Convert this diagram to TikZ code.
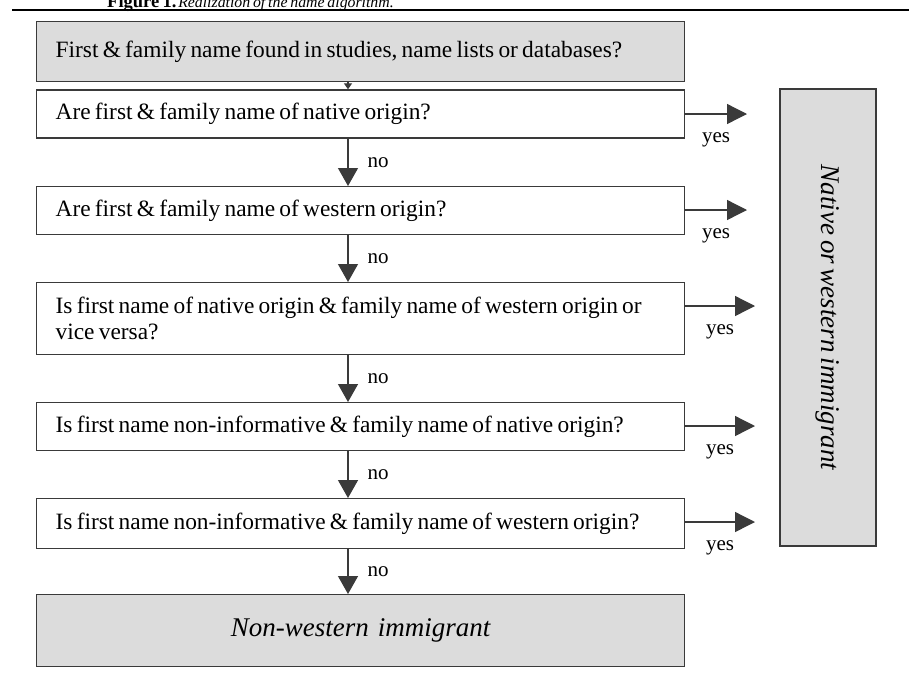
\documentclass[tikz,border=0pt]{standalone}
\usepackage{fontspec}
\setmainfont{Liberation Serif}[WordSpace=0.72]
\usetikzlibrary{arrows.meta}
\definecolor{boxgray}{HTML}{DCDCDC}
\definecolor{linegray}{HTML}{3A3A3A}
\begin{document}
\begin{tikzpicture}[x=1pt, y=-1pt,
qbox/.style={draw=linegray, line width=1.3pt, fill=white, rectangle, anchor=north west, minimum width=648pt, text width=610pt, inner xsep=19pt, inner ysep=0pt, align=flush left, font=\fontsize{23.4}{26}\selectfont},
gbox/.style={qbox, fill=boxgray},
rbox/.style={draw=linegray, line width=1.3pt, fill=boxgray, rectangle, align=center, font=\fontsize{27}{30}\selectfont\itshape},
yesarrow/.style={draw=linegray, line width=1.3pt, -{Triangle[length=20pt, width=20pt]}},
noarrow/.style={draw=linegray, line width=1.3pt, -{Triangle[length=18pt, width=20pt]}},
lbl/.style={inner sep=0pt, font=\fontsize{21}{24}\selectfont}]
\clip (0,0) rectangle (909,681);
\node[anchor=base west, inner sep=0pt] (cap) at (107,7){{\fontsize{18.5}{20}\selectfont\bfseries Figure 1.}\ {\fontsize{15.8}{18}\selectfont\itshape Realization of the name algorithm.}};
\draw[line width=1.8pt] (12,10) -- (909,10);
\node[gbox, minimum height=60pt] (q0) at (36,21){First \& family name found in studies, name lists or databases?};
\node[qbox, minimum height=48pt] (q1) at (36,89.3){Are first \& family name of native origin?};
\node[qbox, minimum height=48pt] (q2) at (36,186){Are first \& family name of western origin?};
\node[qbox, minimum height=72pt] (q3) at (36,282){Is first name of native origin \& family name of western origin or\\vice versa?};
\node[qbox, minimum height=48pt] (q4) at (36,402){Is first name non-informative \& family name of native origin?};
\node[qbox, minimum height=50pt] (q5) at (36,498){Is first name non-informative \& family name of western origin?};
\node[gbox, minimum height=72pt, align=center, font=\fontsize{27}{30}\selectfont\itshape] (nonwest) at (36,594){Non-western immigrant};
\node[rbox, rotate=-90, minimum width=457pt, minimum height=96pt] (nat) at (828,317.5){Native or western immigrant};
\coordinate (ax) at (348,0);
\coordinate (e1) at (747,114);
\coordinate (e2) at (747,210);
\coordinate (e3) at (755,306);
\coordinate (e4) at (755,426);
\coordinate (e5) at (755,522);
\draw[draw=linegray, line width=1.3pt, -{Triangle[length=6pt, width=8pt]}](q0.south -| ax) -- (q1.north -| ax);
\draw[noarrow](q1.south -| ax) -- (q2.north -| ax) node[lbl, midway, right=19pt]{no};
\draw[noarrow](q2.south -| ax) -- (q3.north -| ax) node[lbl, midway, right=19pt]{no};
\draw[noarrow](q3.south -| ax) -- (q4.north -| ax) node[lbl, midway, right=19pt]{no};
\draw[noarrow](q4.south -| ax) -- (q5.north -| ax) node[lbl, midway, right=19pt]{no};
\draw[noarrow](q5.south -| ax) -- (nonwest.north -| ax) node[lbl, midway, right=19pt]{no};
\draw[yesarrow](q1.east |- e1) -- (e1) node[lbl, midway, yshift=-26pt]{yes};
\draw[yesarrow](q2.east |- e2) -- (e2) node[lbl, midway, yshift=-26pt]{yes};
\draw[yesarrow](q3.east |- e3) -- (e3) node[lbl, midway, yshift=-26pt]{yes};
\draw[yesarrow](q4.east |- e4) -- (e4) node[lbl, midway, yshift=-26pt]{yes};
\draw[yesarrow](q5.east |- e5) -- (e5) node[lbl, midway, yshift=-26pt]{yes};
\end{tikzpicture}
\end{document}
